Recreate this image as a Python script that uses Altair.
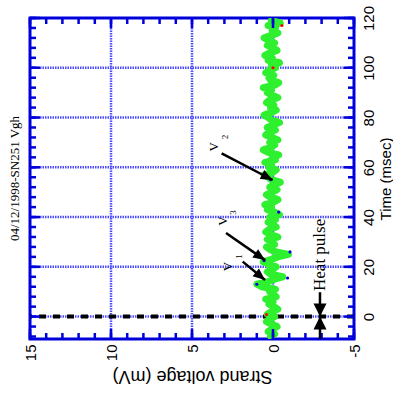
import math
import altair as alt
import pandas as pd

W, H = 324, 321
V_DOM = [-5, 15]
T_DOM = [-9, 120]
PX_V = W / (V_DOM[1] - V_DOM[0])
PX_T = H / (T_DOM[1] - T_DOM[0])

BLUE = "#0000dd"
GRID = "#4d4dff"
GREEN = "#2ef02e"

# ---- data ----
time_ms = list(range(-8, 120))
voltage_mv = [
    0.15, -0.1, 0.3, 0.05, -0.25, 0.1, 0.4, 0.2,
    -0.1, 0.35, 0.1, -0.3, -0.05, 0.25, 0.0, 0.45, -0.2, 0.05,
    0.2, -0.15, 0.7, 1.0, 0.3, -0.1, -0.6, 0.15, 0.35, 0.0,
    -0.2, 0.25, 0.6, 0.1, -0.3, -0.95, -0.2, 0.2, 0.4, -0.1,
    0.05, 0.35, -0.3, 0.15, 0.45, 0.25, -0.2, 0.0, 0.3, -0.15,
    0.2, -0.4, -0.1, 0.35, 0.1, 0.5, -0.05, -0.3, 0.15, 0.4,
    0.05, -0.25, 0.2, -0.1, -0.45, 0.1, 0.3, 0.55, 0.0, -0.2,
    0.25, 0.1, 0.5, -0.15, 0.05, -0.35, 0.3, 0.6, 0.15, -0.1,
    0.2, -0.3, 0.05, 0.45, 0.25, -0.15, 0.35, 0.0, -0.4, 0.1,
    0.3, 0.55, 0.1, -0.2, 0.15, -0.05, 0.4, 0.2, -0.3, 0.05,
    0.35, 0.1, 0.6, -0.1, -0.35, 0.15, 0.25, -0.05, 0.45, 0.2,
    -0.15, 0.1, -0.4, 0.3, 0.05, 0.5, 0.2, -0.25, 0.0, 0.35,
    -0.1, 0.25, 0.55, 0.1, -0.3, 0.05, -0.15, 0.3, -0.45, 0.1,
]

red_t = [0.8, 100, 117]
red_v = [0.4, 0.0, -0.55]
blue_t = [13, 15.5, 26, 42, 22.5, 55]
blue_v = [1.0, -0.9, -1.05, -0.35, 0.55, 0.15]

v_labels = [-5, 0, 5, 10, 15]
t_labels = [0, 20, 40, 60, 80, 100, 120]
v_minor = list(range(-5, 16))
v_major = [-5, 0, 5, 10, 15]
t_minor = list(range(-8, 121, 4))
t_major = [0, 20, 40, 60, 80, 100, 120]
v_grid = [0, 5, 10]
t_grid = [0, 20, 40, 60, 80, 100]

pulse_v = -2.9
pulse_t = 0
pulse_text_t = 10.3
pulse_label = "Heat pulse"

# arrows V1, V3, V2: start (v0,t0) -> tip (v1,t1)
arr_v0 = [1.87, 2.90, 3.17]
arr_t0 = [22.1, 33.6, 65.6]
arr_v1 = [0.49, 0.49, 0.02]
arr_t1 = [14.7, 22.7, 54.9]

lab_text = ["V", "V", "V"]
lab_v = [2.75, 3.09, 3.64]
lab_t = [20.1, 38.4, 68.2]
sub_text = ["1", "3", "2"]
sub_v = [2.08, 2.50, 2.96]
sub_t = [24.2, 41.8, 72.2]

date_text = "04/12/1998-SN251  Vgh"
date_v = 15.95
date_t = 55.5

# ---- scales and axes ----
xs = alt.Scale(domain=V_DOM, reverse=True, nice=False, zero=False)
ys = alt.Scale(domain=T_DOM, nice=False, zero=False)

xaxis = alt.Axis(values=v_labels, ticks=False, domain=False, grid=False,
                 labelAngle=270, labelAlign="right", labelBaseline="middle",
                 labelExpr="'' + datum.value",
                 labelFont="Liberation Sans", labelFontSize=15, labelPadding=5,
                 labelColor="black", labelOverlap=False, labelFlush=False,
                 title="Strand voltage (mV)", titleAngle=180, titleBaseline="bottom",
                 titleFont="Liberation Sans", titleFontSize=18, titleFontWeight="normal",
                 titleColor="black", titlePadding=6)
yaxis = alt.Axis(orient="right", values=t_labels, ticks=False, domain=False, grid=False,
                 labelAngle=270, labelAlign="center", labelBaseline="top",
                 labelFont="Liberation Sans", labelFontSize=15, labelPadding=7,
                 labelColor="black", labelOverlap=False, labelFlush=False,
                 title="Time (msec)", titleAngle=270, titleBaseline="top",
                 titleFont="Liberation Sans", titleFontSize=15, titleFontWeight="normal",
                 titleColor="black", titlePadding=2)


def X(f="v"):
    return alt.X(f"{f}:Q", scale=xs, axis=xaxis)


def Y(f="t"):
    return alt.Y(f"{f}:Q", scale=ys, axis=yaxis)


df = pd.DataFrame({"t": time_ms, "v": voltage_mv})

grid_v = alt.Chart(pd.DataFrame({"v": v_grid})).mark_rule(
    color=GRID, strokeDash=[1.5, 1], strokeWidth=2.5).encode(x=X())
grid_t = alt.Chart(pd.DataFrame({"t": t_grid})).mark_rule(
    color=GRID, strokeDash=[1.5, 1], strokeWidth=2.5).encode(y=Y())

tick_layers = []
for vals, L in ((v_minor, 6), (v_major, 10)):
    d = pd.DataFrame({"v": vals})
    tick_layers.append(alt.Chart(d).mark_rule(color=BLUE, strokeWidth=2.5).encode(
        x=X(), y=alt.value(0), y2=alt.value(L)))
    tick_layers.append(alt.Chart(d).mark_rule(color=BLUE, strokeWidth=2.5).encode(
        x=X(), y=alt.value(H), y2=alt.value(H - L)))
for vals, L in ((t_minor, 6), (t_major, 10)):
    d = pd.DataFrame({"t": vals})
    tick_layers.append(alt.Chart(d).mark_rule(color=BLUE, strokeWidth=2.5).encode(
        y=Y(), x=alt.value(0), x2=alt.value(L)))
    tick_layers.append(alt.Chart(d).mark_rule(color=BLUE, strokeWidth=2.5).encode(
        y=Y(), x=alt.value(W), x2=alt.value(W - L)))

pulse_line = alt.Chart(pd.DataFrame({"t": [pulse_t]})).mark_rule(
    color="black", strokeDash=[7, 7], strokeWidth=4).encode(y=Y())

trace = alt.Chart(df).mark_line(color=GREEN, strokeWidth=7, clip=True,
                                strokeJoin="round", strokeCap="round").encode(
    x=X(), y=Y(), order="t:Q")

blue_pts = alt.Chart(pd.DataFrame({"t": blue_t, "v": blue_v})).mark_point(
    filled=True, color=BLUE, size=10, opacity=1).encode(x=X(), y=Y())
red_pts = alt.Chart(pd.DataFrame({"t": red_t, "v": red_v})).mark_point(
    filled=True, color="red", size=10, opacity=1).encode(x=X(), y=Y())

# arrows
ang = []
for a, b, c, d in zip(arr_v0, arr_t0, arr_v1, arr_t1):
    dx = (a - c) * PX_V
    dy = (b - d) * PX_T
    ang.append(math.degrees(math.atan2(dy, dx)) % 360)
arr = pd.DataFrame({"v0": arr_v0, "t0": arr_t0, "v1": arr_v1, "t1": arr_t1, "ang": ang})
arr_shaft = alt.Chart(arr).mark_rule(color="black", strokeWidth=2.5).encode(
    x=X("v0"), y=Y("t0"), x2="v1:Q", y2="t1:Q")
HEAD = "M0,0 L-1,-0.42 L-1,0.42 Z"
arr_heads = alt.Chart(arr).mark_point(shape=HEAD, filled=True, color="black",
                                      size=576, opacity=1).encode(
    x=X("v1"), y=Y("t1"), angle=alt.Angle("ang:Q", scale=None))

hp = pd.DataFrame({"v": [pulse_v], "t": [pulse_t], "ttop": [pulse_text_t - 0.5],
                   "tbot": [T_DOM[0]]})
hp_shaft_up = alt.Chart(hp).mark_rule(color="black", strokeWidth=2.5).encode(
    x=X(), y=Y(), y2="ttop:Q")
hp_shaft_dn = alt.Chart(hp).mark_rule(color="black", strokeWidth=2.5).encode(
    x=X(), y=Y(), y2="tbot:Q")
HEAD2 = "M0,0 L-1,-0.5 L-1,0.5 Z"
hp_head_dn = alt.Chart(hp).mark_point(shape=HEAD2, filled=True, color="black",
                                      size=676, opacity=1, angle=90).encode(x=X(), y=Y())
hp_head_up = alt.Chart(hp).mark_point(shape=HEAD2, filled=True, color="black",
                                      size=676, opacity=1, angle=270).encode(x=X(), y=Y())
hp_text = alt.Chart(pd.DataFrame({"v": [pulse_v], "t": [pulse_text_t],
                                  "s": [pulse_label]})).mark_text(
    angle=270, align="left", baseline="middle", font="Liberation Serif",
    fontSize=17, color="black").encode(x=X(), y=Y(), text="s:N")

labs = alt.Chart(pd.DataFrame({"v": lab_v, "t": lab_t, "s": lab_text})).mark_text(
    angle=270, align="center", baseline="middle", font="Liberation Serif",
    fontSize=13, color="black").encode(x=X(), y=Y(), text="s:N")
subs = alt.Chart(pd.DataFrame({"v": sub_v, "t": sub_t, "s": sub_text})).mark_text(
    angle=270, align="center", baseline="middle", font="Liberation Serif",
    fontSize=9, color="black").encode(x=X(), y=Y(), text="s:N")
date = alt.Chart(pd.DataFrame({"v": [date_v], "t": [date_t], "s": [date_text]})).mark_text(
    angle=270, align="center", baseline="middle", font="Liberation Serif",
    fontSize=13, color="black").encode(x=X(), y=Y(), text="s:N")

chart = alt.layer(
    grid_v, grid_t, pulse_line, trace, *tick_layers, blue_pts, red_pts,
    arr_shaft, arr_heads, hp_shaft_up, hp_shaft_dn, hp_head_dn, hp_head_up,
    hp_text, labs, subs, date,
).properties(
    width=W, height=H,
    padding={"left": 30, "top": 18, "right": 39, "bottom": 67},
    autosize=alt.AutoSizeParams(type="none"),
    background="white",
).configure_view(stroke=BLUE, strokeWidth=3)

chart.save("out.html", embed_options={"renderer": "svg", "actions": False})
